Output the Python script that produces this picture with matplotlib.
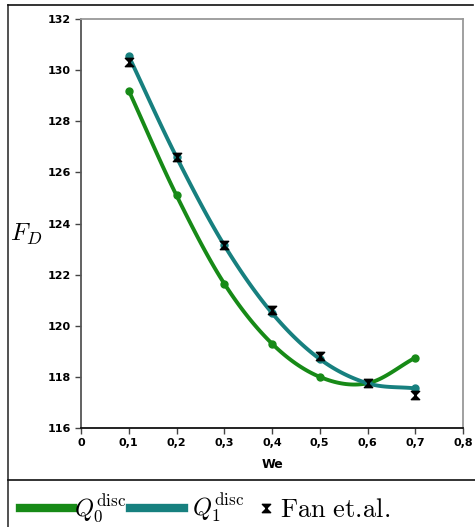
import numpy as np
import matplotlib
matplotlib.use("Agg")
import matplotlib.pyplot as plt
from matplotlib.path import Path
from matplotlib.lines import Line2D

plt.rcParams['mathtext.fontset'] = 'cm'

########################################
#   Data
########################################

we = [0.1, 0.2, 0.3, 0.4, 0.5, 0.6, 0.7]
q0 = [129.2, 125.1, 121.65, 119.3, 118.0, 117.75, 118.75]
q1 = [130.55, 126.6, 123.15, 120.5, 118.7, 117.75, 117.55]
fan = [130.3, 126.6, 123.15, 120.6, 118.8, 117.75, 117.3]

xticks = [0, 0.1, 0.2, 0.3, 0.4, 0.5, 0.6, 0.7, 0.8]
xlabels = ['0', '0,1', '0,2', '0,3', '0,4', '0,5', '0,6', '0,7', '0,8']
yticks = [116, 118, 120, 122, 124, 126, 128, 130, 132]

green = '#178a17'
teal = '#17807f'

# hourglass marker for reference data
hourglass = Path([(-1, 1), (1, 1), (-1, -1), (1, -1), (-1, 1)],
                 [Path.MOVETO, Path.LINETO, Path.LINETO, Path.LINETO, Path.CLOSEPOLY])


def smooth(x, y, n=20):
    # catmull-rom through the points, only for drawing the line
    x = np.asarray(x, float)
    y = np.asarray(y, float)
    px = np.concatenate([[2 * x[0] - x[1]], x, [2 * x[-1] - x[-2]]])
    py = np.concatenate([[2 * y[0] - y[1]], y, [2 * y[-1] - y[-2]]])
    xs, ys = [], []
    t = np.linspace(0, 1, n, endpoint=False)
    for i in range(1, len(px) - 2):
        for p, out in ((px, xs), (py, ys)):
            p0, p1, p2, p3 = p[i - 1], p[i], p[i + 1], p[i + 2]
            out.extend(0.5 * (2 * p1 + (-p0 + p2) * t + (2 * p0 - 5 * p1 + 4 * p2 - p3) * t ** 2
                              + (-p0 + 3 * p1 - 3 * p2 + p3) * t ** 3))
    xs.append(x[-1])
    ys.append(y[-1])
    return xs, ys


def fx(px):
    return px / 475


def fy(py):
    return 1 - py / 527


########################################
#   Plot
########################################

fig = plt.figure(figsize=(4.75, 5.27), dpi=100)
ax = fig.add_axes([fx(81), fy(428), fx(463 - 81), (428 - 19) / 527])

sx, sy = smooth(we, q0)
ax.plot(sx, sy, color=green, lw=2.8, solid_capstyle='round')
ax.plot(we, q0, 'o', color=green, ms=5)
sx, sy = smooth(we, q1)
ax.plot(sx, sy, color=teal, lw=2.8, solid_capstyle='round')
ax.plot(we, q1, 'o', color=teal, ms=5)
ax.plot(we, fan, linestyle='none', marker=hourglass, color='black', ms=6)

ax.set_xlim(0, 0.8)
ax.set_ylim(116, 132)
ax.set_xticks(xticks)
ax.set_xticklabels(xlabels)
ax.set_yticks(yticks)
ax.tick_params(labelsize=8, length=4, width=1, color='#444444')
for lab in ax.get_xticklabels() + ax.get_yticklabels():
    lab.set_fontweight('bold')
ax.spines['left'].set_color('#555555')
ax.spines['bottom'].set_color('#111111')
ax.spines['top'].set_color('#999999')
ax.spines['right'].set_color('#999999')
for s in ax.spines.values():
    s.set_linewidth(1.3)

ax.set_xlabel('We', fontsize=9, fontweight='bold', labelpad=7)
fig.text(fx(10), fy(234), r'$F_D$', fontsize=18, va='center', ha='left')

# outer frame and legend separator
fig.add_artist(Line2D([fx(8), fx(8)], [0, fy(5)], color='#333333', lw=1.2))
fig.add_artist(Line2D([fx(8), fx(473)], [fy(5), fy(5)], color='#111111', lw=1.2))
fig.add_artist(Line2D([fx(8), 1], [fy(480), fy(480)], color='#111111', lw=1.2))

# legend row
ly = fy(508)
fig.add_artist(Line2D([fx(20), fx(73)], [ly, ly], color=green, lw=6))
fig.text(fx(74), ly, r'$Q_0^{\rm disc}$', fontsize=17.5, va='center', ha='left')
fig.add_artist(Line2D([fx(130), fx(184)], [ly, ly], color=teal, lw=6))
fig.text(fx(192), ly, r'$Q_1^{\rm disc}$', fontsize=17.5, va='center', ha='left')
fig.add_artist(Line2D([fx(266)], [ly], linestyle='none', marker=hourglass, color='black', ms=6))
fig.text(fx(280), fy(510), r'$\mathrm{Fan\ et.\!al.}$', fontsize=19, va='center', ha='left')

fig.savefig('out.png', dpi=100)
